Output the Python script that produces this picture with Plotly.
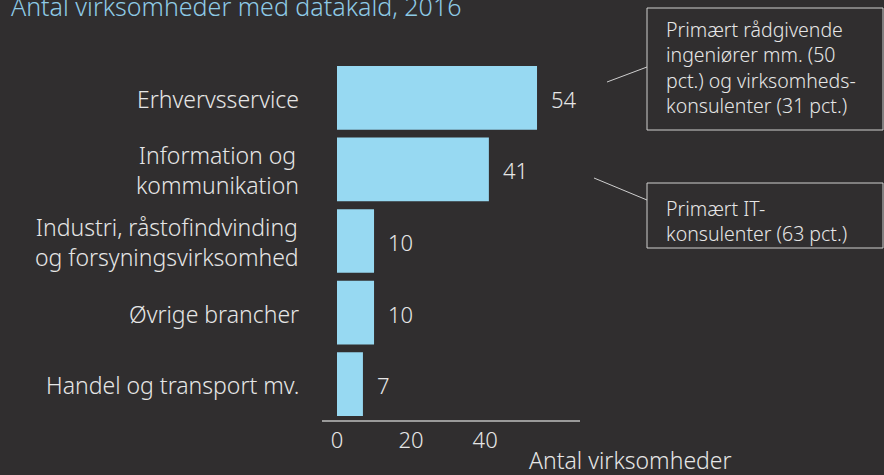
import plotly.graph_objects as go

# data (top to bottom)
categories = ["Erhvervsservice", "Information og kommunikation",
              "Industri, råstofindvinding og forsyningsvirksomhed",
              "Øvrige brancher", "Handel og transport mv."]
cat_labels = ["Erhvervsservice", "Information og<br>kommunikation",
              "Industri, råstofindvinding<br>og forsyningsvirksomhed",
              "Øvrige brancher", "Handel og transport mv."]
values = [54, 41, 10, 10, 7]
tick_vals = [0, 20, 40]

title_text = "Antal virksomheder med datakald, 2016"
axis_title = "Antal virksomheder"
note1 = "Primært rådgivende<br>ingeniører mm. (50<br>pct.) og virksomheds-<br>konsulenter (31 pct.)"
note2 = "Primært IT-<br>konsulenter (63 pct.)"

bg = "#302e2f"
bar_col = "#97d9f2"
txt = "#e6e6e6"
font_fam = "Noto Sans, Open Sans, sans-serif"
fw = 300

# plot area in pixels
W, H = 884, 475
L, R, T, B = 322, 580, 62, 420


def px(x):
    return (x - L) / (R - L)


def py(y):
    return (B - y) / (B - T)


def fnt(size, color=txt):
    return dict(size=size, color=color, family=font_fam, weight=fw)


fig = go.Figure()
fig.add_trace(go.Bar(
    y=categories, x=values, orientation="h",
    marker=dict(color=bar_col, line=dict(width=0)),
    hoverinfo="skip",
))

# value labels
for c, v in zip(categories, values):
    fig.add_annotation(x=v, y=c, text=str(v), showarrow=False,
                       xanchor="left", xshift=12, yshift=-1, font=fnt(22))

# category labels
for c, lab in zip(categories, cat_labels):
    fig.add_annotation(x=0, xref="paper", y=c, text=lab, showarrow=False,
                       xanchor="right", xshift=-21, yshift=-1, align="center",
                       font=fnt(23))

# title (cut at top, as in the original)
fig.add_annotation(x=px(9), y=py(6), xref="paper", yref="paper", text=title_text,
                   showarrow=False, xanchor="left", yanchor="middle",
                   font=fnt(25, "#8ecae6"))

# axis title
fig.add_annotation(x=px(630), y=py(460), xref="paper", yref="paper", text=axis_title,
                   showarrow=False, xanchor="center", yanchor="middle", font=fnt(23))

# note boxes
box_line = dict(color="#cfcfcf", width=1)
fig.add_shape(type="rect", xref="paper", yref="paper",
              x0=px(647), x1=px(883), y0=py(130), y1=py(8), line=box_line)
fig.add_shape(type="rect", xref="paper", yref="paper",
              x0=px(647), x1=px(883), y0=py(248), y1=py(183), line=box_line)
fig.add_shape(type="line", xref="paper", yref="paper",
              x0=px(607), y0=py(82), x1=px(647), y1=py(67), line=box_line)
fig.add_shape(type="line", xref="paper", yref="paper",
              x0=px(594), y0=py(178), x1=px(647), y1=py(200), line=box_line)

fig.add_annotation(x=px(665), y=py(67), xref="paper", yref="paper", text=note1,
                   showarrow=False, xanchor="left", yanchor="middle", align="left",
                   borderpad=0, font=fnt(19.5))
fig.add_annotation(x=px(665), y=py(221), xref="paper", yref="paper", text=note2,
                   showarrow=False, xanchor="left", yanchor="middle", align="left",
                   borderpad=0, font=fnt(19.5))

fig.update_layout(
    width=W, height=H,
    margin=dict(l=L, r=W - R, t=T, b=H - B, pad=0),
    paper_bgcolor=bg, plot_bgcolor=bg,
    showlegend=False,
    bargap=0.11,
    xaxis=dict(range=[-4.05, 65.6], tickvals=tick_vals, showgrid=False, zeroline=False,
               showline=True, linecolor="#9a9a9a", linewidth=2, ticks="",
               tickfont=fnt(22)),
    yaxis=dict(categoryorder="array", categoryarray=categories, range=[4.5, -0.5],
               showticklabels=False, showgrid=False, zeroline=False, showline=False,
               ticks=""),
)

fig.write_html("out.html", config={"displayModeBar": False},
               post_script="document.body.style.margin='0';")
